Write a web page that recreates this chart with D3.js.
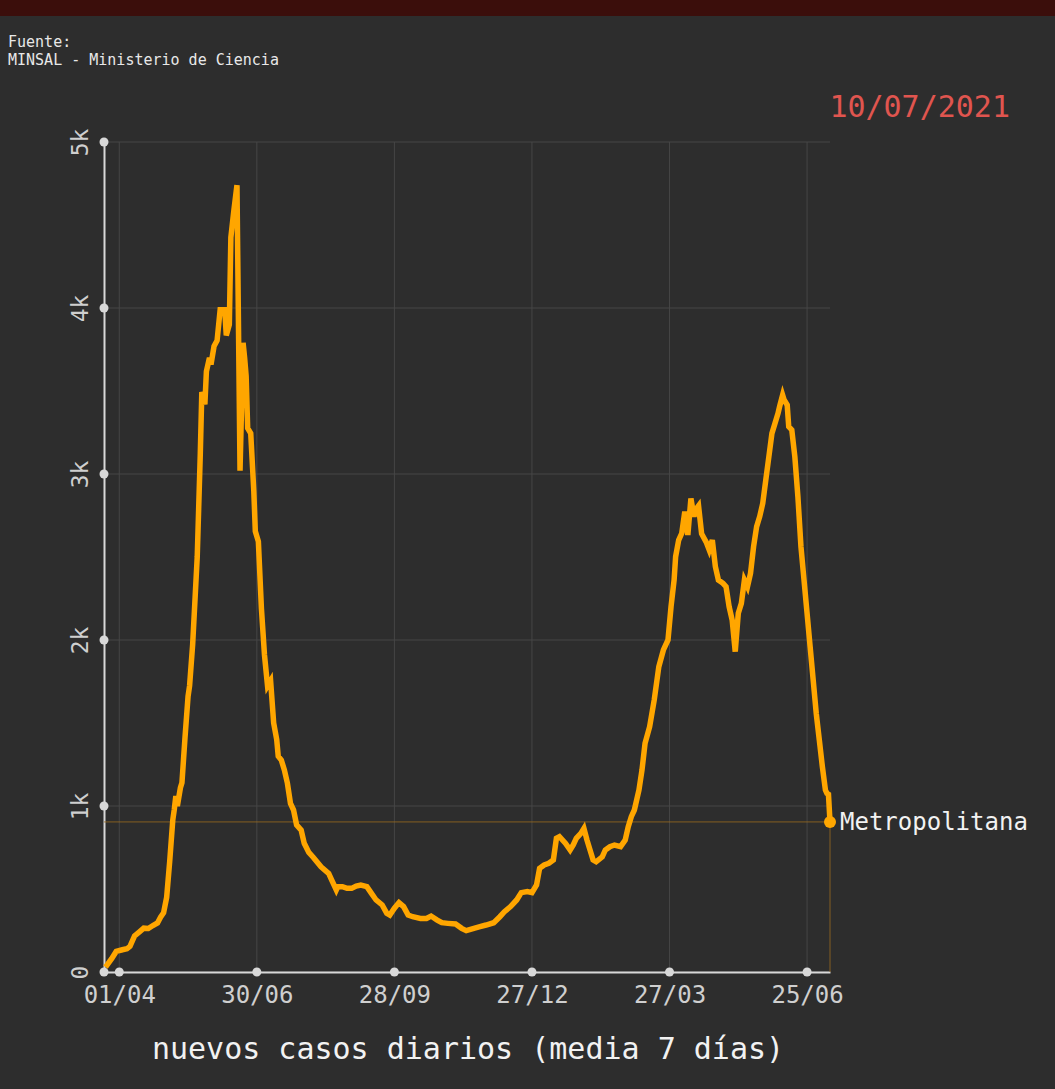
<!DOCTYPE html>
<html>
<head>
<meta charset="utf-8">
<script src="https://cdn.jsdelivr.net/npm/d3@7"></script>
<style>
  html, body { margin: 0; padding: 0; background: #2d2d2d; }
  svg { display: block; }
</style>
</head>
<body>
<div id="chart"></div>
<script>
// days counted from 01/04/2020, 7-day mean of new daily cases (Metropolitana)
const dias = [-9, -5, -2, 2, 5, 7, 10, 13, 16, 19, 22, 25, 27, 29, 31, 33, 35, 36, 37, 38, 40, 41, 43, 45, 46, 48, 51, 53, 54, 56, 57, 59, 60, 62, 64, 66, 69, 70, 72, 73, 75, 77, 79, 81, 82, 83, 84, 86, 88, 89, 91, 93, 95, 97, 99, 101, 103, 104, 106, 108, 110, 112, 114, 116, 119, 121, 124, 127, 132, 137, 139, 142, 143, 146, 149, 152, 155, 158, 162, 165, 168, 172, 175, 177, 180, 183, 186, 189, 192, 197, 201, 204, 208, 211, 215, 220, 224, 227, 232, 236, 240, 245, 249, 252, 256, 260, 263, 267, 270, 273, 275, 278, 281, 284, 286, 288, 292, 295, 297, 299, 302, 304, 306, 308, 310, 312, 316, 318, 321, 324, 328, 331, 333, 335, 337, 340, 342, 344, 347, 350, 353, 356, 359, 361, 363, 364, 366, 368, 370, 372, 374, 376, 377, 379, 381, 384, 386, 388, 390, 392, 395, 397, 399, 401, 403, 405, 407, 409, 411, 413, 415, 417, 419, 421, 423, 425, 427, 429, 431, 432, 434, 435, 437, 438, 440, 442, 444, 446, 448, 450, 452, 454, 456, 458, 460, 462, 463, 464, 465];
const casos = [30, 80, 124, 134, 140, 155, 217, 240, 264, 262, 280, 295, 330, 357, 450, 668, 916, 980, 1060, 1000, 1110, 1140, 1413, 1661, 1724, 1972, 2500, 3121, 3494, 3420, 3618, 3700, 3660, 3770, 3804, 3990, 3990, 3835, 3900, 4425, 4590, 4740, 3020, 3790, 3700, 3590, 3276, 3245, 2900, 2655, 2593, 2189, 1910, 1724, 1755, 1500, 1400, 1300, 1277, 1217, 1137, 1016, 976, 886, 855, 775, 720, 690, 634, 594, 554, 494, 514, 514, 504, 504, 518, 524, 514, 474, 434, 404, 354, 343, 384, 418, 394, 343, 333, 323, 323, 337, 313, 297, 293, 289, 263, 249, 263, 273, 283, 297, 333, 363, 394, 434, 478, 484, 478, 524, 625, 645, 655, 675, 805, 815, 775, 735, 765, 805, 835, 865, 795, 735, 675, 664, 694, 735, 755, 765, 755, 795, 875, 936, 976, 1096, 1217, 1378, 1478, 1639, 1839, 1940, 2000, 2201, 2361, 2502, 2602, 2643, 2773, 2633, 2853, 2743, 2783, 2808, 2640, 2590, 2542, 2602, 2442, 2361, 2341, 2321, 2201, 2120, 1930, 2161, 2221, 2361, 2321, 2402, 2562, 2683, 2743, 2823, 2964, 3104, 3245, 3305, 3365, 3405, 3476, 3446, 3416, 3285, 3265, 3104, 2863, 2562, 2361, 2161, 1960, 1759, 1558, 1398, 1237, 1096, 1076, 1070, 904];

const xTicks = ["01/04/2020", "30/06/2020", "28/09/2020", "27/12/2020", "27/03/2021", "25/06/2021"];
const yTicks = [0, 1000, 2000, 3000, 4000, 5000];
const yTickLabels = ["0", "1k", "2k", "3k", "4k", "5k"];
const region = "Metropolitana";
const fecha = "10/07/2021";

const width = 1055, height = 1089;
const margin = {top: 142, right: 225, bottom: 117, left: 104};
const parse = d3.utcParse("%d/%m/%Y");
const inicio = parse("01/04/2020");
const fmt = d3.utcFormat("%d/%m");
const mono = "'DejaVu Sans Mono', monospace";

const data = dias.map((d, i) => ({date: d3.utcDay.offset(inicio, d), v: casos[i]}));

const svg = d3.select("#chart").append("svg")
    .attr("width", width).attr("height", height)
    .style("background", "#2d2d2d");

// top bar
svg.append("rect").attr("x", 0).attr("y", 0).attr("width", width).attr("height", 16).attr("fill", "#3b0e0b");

svg.append("text").attr("x", 8).attr("y", 47).attr("fill", "#e8e8e8")
    .style("font", "15px " + mono).text("Fuente:");
svg.append("text").attr("x", 8).attr("y", 65).attr("fill", "#e8e8e8")
    .style("font", "15px " + mono).text("MINSAL - Ministerio de Ciencia");

svg.append("text").attr("x", 1010).attr("y", 117).attr("text-anchor", "end")
    .attr("fill", "#e0554f").style("font", "30px " + mono).text(fecha);

const x = d3.scaleUtc()
    .domain([parse("22/03/2020"), parse("10/07/2021")])
    .range([margin.left, width - margin.right]);
const y = d3.scaleLinear()
    .domain([0, 5000])
    .range([height - margin.bottom, margin.top]);

// grid
const grid = svg.append("g").attr("stroke", "#464646").attr("stroke-width", 1);
grid.selectAll(".gx").data(xTicks).join("line")
    .attr("x1", d => x(parse(d))).attr("x2", d => x(parse(d)))
    .attr("y1", y(0)).attr("y2", y(5000));
grid.selectAll(".gy").data(yTicks).join("line")
    .attr("x1", x.range()[0]).attr("x2", x.range()[1])
    .attr("y1", d => y(d)).attr("y2", d => y(d));

// axes
const xAxis = g => g
    .attr("transform", `translate(0,${y(0)})`)
    .call(d3.axisBottom(x).tickValues(xTicks.map(parse)).tickFormat(fmt).tickSize(0).tickPadding(14))
    .call(g => g.select(".domain").attr("stroke", "#d8d8d8").attr("stroke-width", 2))
    .call(g => g.selectAll(".tick text").attr("fill", "#cfcfcf").style("font", "24px " + mono).attr("dy", "0.71em"));
const yAxis = g => g
    .attr("transform", `translate(${margin.left},0)`)
    .call(d3.axisLeft(y).tickValues(yTicks).tickFormat((d, i) => yTickLabels[i]).tickSize(0))
    .call(g => g.select(".domain").attr("stroke", "#d8d8d8").attr("stroke-width", 2))
    .call(g => g.selectAll(".tick text")
        .attr("fill", "#cfcfcf").style("font", "23px " + mono)
        .attr("x", 0).attr("dy", 0).attr("text-anchor", "middle")
        .attr("transform", "translate(-16,0) rotate(-90)"));

svg.append("g").call(xAxis);
svg.append("g").call(yAxis);

// tick dots
svg.append("g").attr("fill", "#d8d8d8")
    .selectAll("circle").data(xTicks).join("circle")
    .attr("cx", d => x(parse(d))).attr("cy", y(0)).attr("r", 4.5);
svg.append("g").attr("fill", "#d8d8d8")
    .selectAll("circle").data(yTicks).join("circle")
    .attr("cx", margin.left).attr("cy", d => y(d)).attr("r", 4.5);

// last value guides
const last = data[data.length - 1];
svg.append("path")
    .attr("d", `M${x.range()[0]},${y(last.v)}H${x(last.date)}V${y(0)}`)
    .attr("fill", "none").attr("stroke", "#9a6a1e").attr("stroke-width", 1).attr("stroke-opacity", 0.8);

const line = d3.line().x(d => x(d.date)).y(d => y(d.v));
svg.append("path").datum(data)
    .attr("d", line)
    .attr("fill", "none").attr("stroke", "#ffa600").attr("stroke-width", 5.5);

svg.append("circle").attr("cx", x(last.date)).attr("cy", y(last.v)).attr("r", 6).attr("fill", "#ffa600");
svg.append("text").attr("x", x(last.date) + 10).attr("y", y(last.v)).attr("dy", "0.35em")
    .attr("fill", "#f2f2f2").style("font", "24px " + mono).text(region);

svg.append("text").attr("x", 468).attr("y", 1059).attr("text-anchor", "middle")
    .attr("fill", "#f2f2f2").style("font", "30px " + mono).text("nuevos casos diarios (media 7 días)");
</script>
</body>
</html>
